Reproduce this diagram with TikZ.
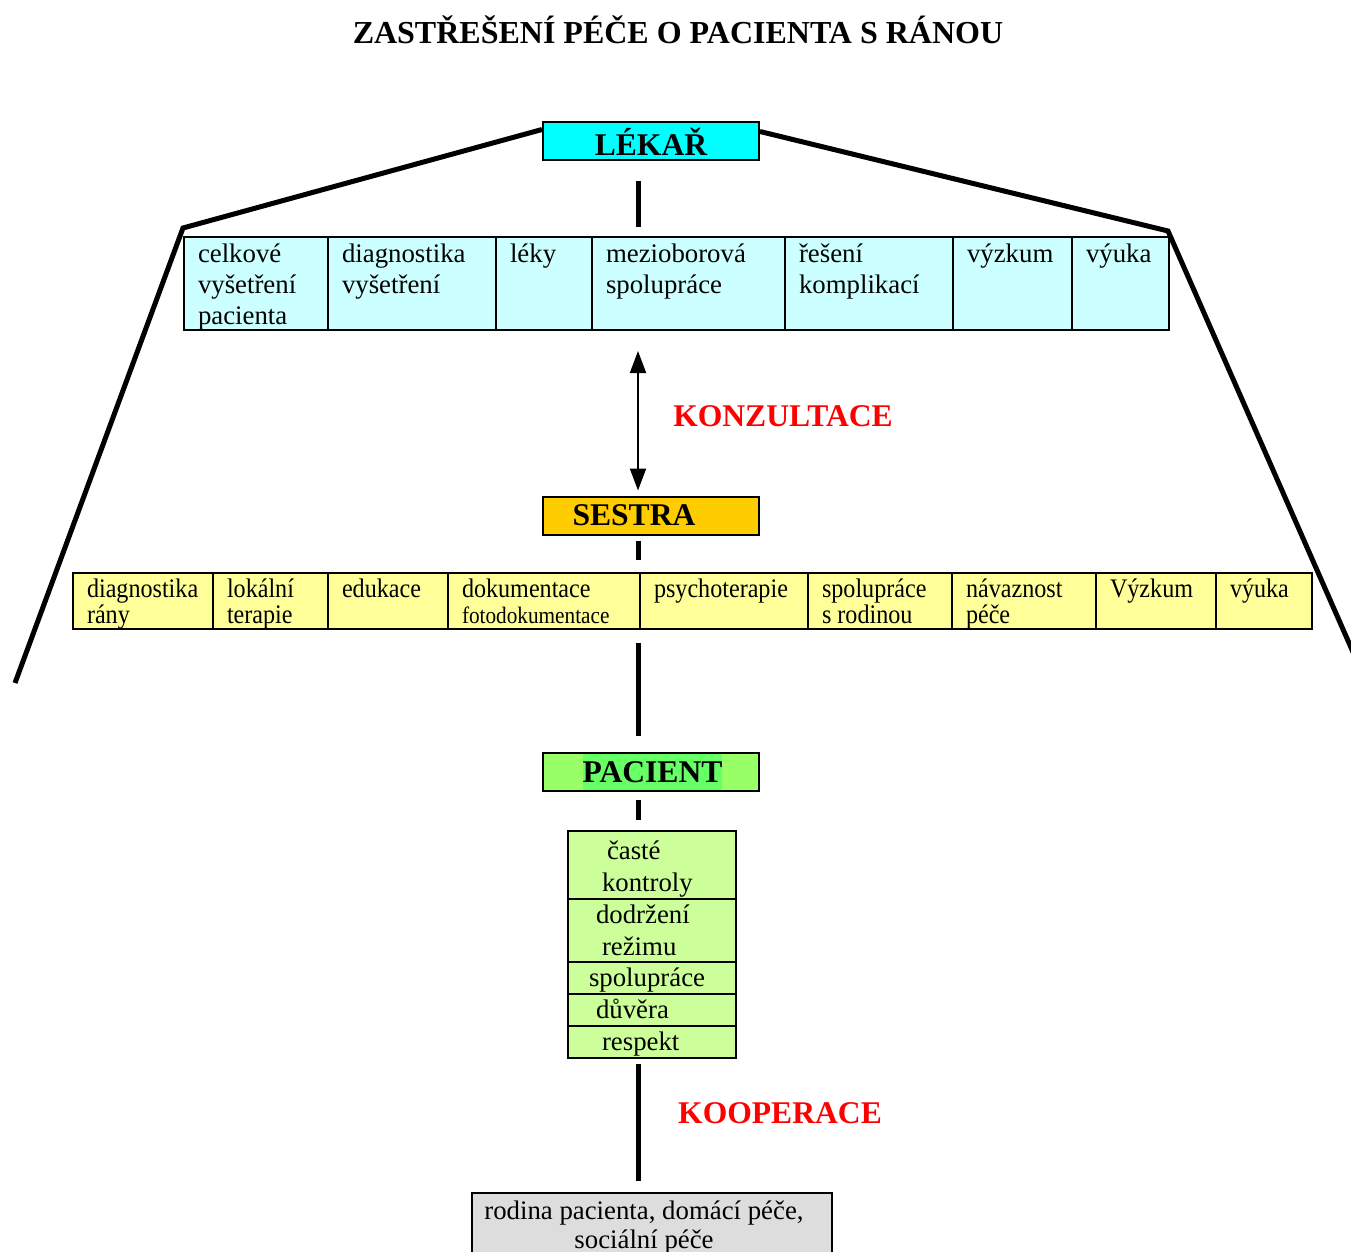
\documentclass[tikz,border=0pt]{standalone}
\usepackage{fontspec}
\setmainfont{Liberation Serif}
\newfontfamily\narrowfont[FakeStretch=0.9]{Liberation Serif}
\usetikzlibrary{arrows.meta, calc}

\definecolor{lekarcyan}{HTML}{00FFFF}
\definecolor{lekarlight}{HTML}{CCFFFF}
\definecolor{sestraorange}{HTML}{FFCC00}
\definecolor{sestralight}{HTML}{FFFF99}
\definecolor{pacientgreen}{HTML}{99FF66}
\definecolor{pacienthl}{HTML}{66FF66}
\definecolor{pacientlight}{HTML}{CCFF99}
\definecolor{rodinagray}{HTML}{DDDDDD}

\tikzset{
    headbox/.style={draw, line width=1pt, minimum width=108pt, minimum height=19pt,
        inner sep=0pt, font=\fontsize{15.8}{16}\selectfont\bfseries},
    cellbox/.style={draw, line width=1pt, anchor=north west, inner sep=0pt},
    drcell/.style={cellbox, fill=lekarlight, font=\fontsize{13.4}{15.5}\selectfont},
    nscell/.style={cellbox, fill=sestralight, font=\narrowfont\fontsize{13.4}{13}\selectfont},
    pccell/.style={cellbox, fill=pacientlight, font=\fontsize{13.4}{16}\selectfont},
    roof/.style={line width=2.5pt},
    bar/.style={line width=2.5pt},
    redlabel/.style={text=red, font=\fontsize{15.8}{16}\selectfont\bfseries}
}

% text of a cell: width, height, first baseline, text
\newcommand\cellpar[4]{\parbox[c][#2][t]{#1}{\raggedright\leftskip=7pt\rule{0pt}{#3}#4}}
% text of a patient row: height, first baseline, text
\newcommand\listpar[3]{\parbox[c][#1][t]{84pt}{\rule{0pt}{#2}#3}}

\begin{document}
\begin{tikzpicture}[x=0.5pt, y=-0.5pt]
    \useasboundingbox (0,0) rectangle (1351,1252);
    \coordinate (axis) at (638,0);

    \node[font=\fontsize{16}{16}\selectfont\bfseries] (title) at (678,30)
        {ZASTŘEŠENÍ PÉČE O PACIENTA S RÁNOU};

    % Lékař
    \node[headbox, fill=lekarcyan] (lekar) at (651,141.5) {LÉKAŘ};

    % Střecha
    \draw[roof] ([yshift=-4pt]lekar.north west) -- (183,228) -- (15,683);
    \draw[roof] ([yshift=-5pt]lekar.north east) -- (1168,231) -- (1360,668);

    \node[drcell] (celkove) at (183,236) {\cellpar{72pt}{46.5pt}{12.5pt}{celkové\\vyšetření\\pacienta}};
    \node[drcell] (diagvys) at (327,236) {\cellpar{84pt}{46.5pt}{12.5pt}{diagnostika\\vyšetření}};
    \node[drcell] (leky) at (495,236) {\cellpar{48pt}{46.5pt}{12.5pt}{léky}};
    \node[drcell] (mezi) at (591,236) {\cellpar{96.5pt}{46.5pt}{12.5pt}{mezioborová\\spolupráce}};
    \node[drcell] (reseni) at (784,236) {\cellpar{84pt}{46.5pt}{12.5pt}{řešení\\komplikací}};
    \node[drcell] (vyzkum) at (952,236) {\cellpar{59.5pt}{46.5pt}{12.5pt}{výzkum}};
    \node[drcell] (vyuka) at (1071,236) {\cellpar{48.5pt}{46.5pt}{12.5pt}{výuka}};

    \draw[bar] ($(lekar.south -| axis)+(0,20)$) -- ($(mezi.north -| axis)+(0,-9)$);

    % Sestra
    \node[headbox, fill=sestraorange] (sestra) at (651,515.5) {SESTRA\kern17pt};

    \draw[{Triangle[width=8pt,length=11pt]}-{Triangle[width=8pt,length=11pt]}, line width=1pt]
        ($(mezi.south -| axis)+(0,20)$) -- ($(sestra.north -| axis)+(0,-5)$);
    \node[redlabel] (konzultace) at (783,416) {KONZULTACE};

    \node[nscell] (diagrany) at (72,572) {\cellpar{70pt}{28pt}{12pt}{diagnostika\\rány}};
    \node[nscell] (lokalni) at (212,572) {\cellpar{57.5pt}{28pt}{12pt}{lokální\\terapie}};
    \node[nscell] (edukace) at (327,572) {\cellpar{60pt}{28pt}{12pt}{edukace}};
    \node[nscell] (dokum) at (447,572) {\cellpar{96pt}{28pt}{12pt}{dokumentace\\{\fontsize{11.8}{13}\selectfont fotodokumentace}}};
    \node[nscell] (psycho) at (639,572) {\cellpar{84pt}{28pt}{12pt}{psychoterapie}};
    \node[nscell] (rodinou) at (807,572) {\cellpar{72pt}{28pt}{12pt}{spolupráce\\s rodinou}};
    \node[nscell] (navaznost) at (951,572) {\cellpar{72pt}{28pt}{12pt}{návaznost\\péče}};
    \node[nscell] (vyzkumS) at (1095,572) {\cellpar{60pt}{28pt}{12pt}{Výzkum}};
    \node[nscell] (vyukaS) at (1215,572) {\cellpar{48pt}{28pt}{12pt}{výuka}};

    \draw[bar] ($(sestra.south -| axis)+(0,5)$) -- ($(dokum.north -| axis)+(0,-12)$);

    % Pacient
    \node[headbox, fill=pacientgreen] (pacient) at (651,772) {};
    \node[fill=pacienthl, inner xsep=0pt, minimum height=18pt,
        font=\fontsize{15.8}{16}\selectfont\bfseries] (pacientlabel) at (652.5,772) {PACIENT};

    \draw[bar] ($(dokum.south -| axis)+(0,13)$) -- ($(pacient.north -| axis)+(0,-16)$);

    \node[pccell] (caste) at (567,830) {\listpar{34pt}{14pt}{\hspace*{19.5pt}časté\\\hspace*{17pt}kontroly}};
    \node[pccell] (rezim) at (567,898) {\listpar{31.5pt}{12pt}{\hspace*{14pt}dodržení\\\hspace*{17pt}režimu}};
    \node[pccell] (spoluprace) at (567,961) {\listpar{16pt}{12pt}{\hspace*{10.5pt}spolupráce}};
    \node[pccell] (duvera) at (567,993) {\listpar{16pt}{12pt}{\hspace*{14pt}důvěra}};
    \node[pccell] (respekt) at (567,1025) {\listpar{16pt}{12pt}{\hspace*{17pt}respekt}};

    \draw[bar] ($(pacient.south -| axis)+(0,8)$) -- ($(caste.north -| axis)+(0,-10)$);

    % Rodina
    \node[cellbox, fill=rodinagray, font=\fontsize{13.4}{14.5}\selectfont] (rodina) at (471,1192)
        {\parbox[c][37pt][t]{180pt}{\leftskip=0pt plus 1fil\rightskip=8pt plus 1fil\parfillskip=0pt
        \rule{0pt}{13pt}rodina pacienta, domácí péče,\par sociální péče}};

    \draw[bar] ($(respekt.south -| axis)+(0,5)$) -- ($(rodina.north -| axis)+(0,-11)$);
    \node[redlabel] (kooperace) at (780,1113) {KOOPERACE};

\end{tikzpicture}
\end{document}
